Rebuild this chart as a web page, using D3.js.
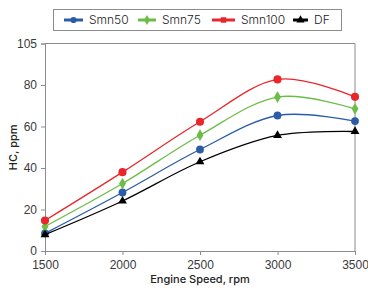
<!DOCTYPE html>
<html>
<head>
<meta charset="utf-8">
<script src="https://cdn.jsdelivr.net/npm/d3@7"></script>
<style>
  body { margin: 0; background: #fff; }
  svg { font-family: "Inter", "Roboto", sans-serif; }
</style>
</head>
<body>
<svg id="chart" width="368" height="291"></svg>
<script>
// engine speed (rpm)
const speeds = [1500, 2000, 2500, 3000, 3500];

// HC emissions, ppm
const smn50 = [8.5, 28.2, 48.9, 65.3, 62.6];
const smn75 = [11.8, 32.5, 55.8, 74.2, 68.5];
const smn100 = [14.7, 38.0, 62.3, 82.7, 74.3];
const df = [7.9, 24.1, 43.0, 55.7, 57.6];

const seriesNames = ["Smn50", "Smn75", "Smn100", "DF"];
const seriesValues = [smn50, smn75, smn100, df];

const yTicks = [0, 20, 40, 60, 80, 100];
const yTickLabels = ["0", "20", "40", "60", "80", "105"];
const xTicks = [1500, 2000, 2500, 3000, 3500];

const colours = ["#2b5ca8", "#6bbd45", "#e8262b", "#000000"];
const markers = [d3.symbolCircle, d3.symbolDiamond, d3.symbolCircle, d3.symbolTriangle];
const markerSizes = [48, 40, 52, 34];

const margin = { top: 43.5, right: 13, bottom: 40, left: 45 };
const svg = d3.select("#chart");
const width = 368 - margin.left - margin.right;
const height = 291 - margin.top - margin.bottom;

const g = svg.append("g")
    .attr("transform", `translate(${margin.left},${margin.top})`);

const x = d3.scaleLinear().domain([1500, 3500]).range([0, width]);
const y = d3.scaleLinear().domain([0, 100]).range([height, 0]);

// frame (top and right)
g.append("path")
    .attr("d", `M0,0H${width}V${height}`)
    .attr("fill", "none")
    .attr("stroke", "#8c8c8c")
    .attr("stroke-width", 1);

const xAxis = g.append("g")
    .attr("transform", `translate(0,${height})`)
    .call(d3.axisBottom(x).tickValues(xTicks).tickSize(4).tickFormat(d3.format("d")));

const yAxis = g.append("g")
    .call(d3.axisLeft(y).tickValues(yTicks).tickSize(4)
        .tickFormat((d, i) => yTickLabels[i]));

[xAxis, yAxis].forEach(ax => {
    ax.select(".domain").attr("stroke", "#8c8c8c");
    ax.selectAll(".tick line").attr("stroke", "#8c8c8c");
    ax.selectAll(".tick text")
        .attr("fill", "#3a3a3a")
        .style("font-size", "12px")
        .style("font-weight", "300");
});
xAxis.selectAll(".tick text").attr("dy", "0.95em");
yAxis.selectAll(".tick text").attr("dx", "-1px");

// axis titles
svg.append("text")
    .attr("x", margin.left + width / 2)
    .attr("y", 283)
    .attr("text-anchor", "middle")
    .attr("fill", "#222")
    .style("font-size", "11px")
    .style("font-weight", "500")
    .text("Engine Speed, rpm");

svg.append("text")
    .attr("transform", `translate(13,${margin.top + height / 2}) rotate(-90)`)
    .attr("text-anchor", "middle")
    .attr("dy", "0.35em")
    .attr("fill", "#222")
    .style("font-size", "11px")
    .style("font-weight", "500")
    .text("HC, ppm");

const line = d3.line()
    .x(d => x(d[0]))
    .y(d => y(d[1]))
    .curve(d3.curveCardinal.tension(0));

seriesValues.forEach((vals, i) => {
    const pts = speeds.map((s, j) => [s, vals[j]]);
    g.append("path")
        .datum(pts)
        .attr("fill", "none")
        .attr("stroke", colours[i])
        .attr("stroke-width", 1.3)
        .attr("d", line);
    g.selectAll(`.m${i}`)
        .data(pts)
        .enter()
        .append("path")
        .attr("class", `m${i}`)
        .attr("transform", d => `translate(${x(d[0])},${y(d[1])})`)
        .attr("d", d3.symbol().type(markers[i]).size(markerSizes[i]))
        .attr("fill", colours[i]);
});

// legend
const legend = svg.append("g");
legend.append("rect")
    .attr("x", 53.5).attr("y", 9.5)
    .attr("width", 288).attr("height", 21)
    .attr("fill", "#fff")
    .attr("stroke", "#8c8c8c");

const legendX = [64, 138, 212, 293];
const legendLen = [19, 18, 23, 15];
const legendMarkers = [d3.symbolCircle, d3.symbolDiamond, d3.symbolSquare, d3.symbolTriangle];
seriesNames.forEach((name, i) => {
    const item = legend.append("g").attr("transform", `translate(${legendX[i]},20)`);
    item.append("line")
        .attr("x1", 0).attr("x2", legendLen[i])
        .attr("stroke", colours[i])
        .attr("stroke-width", 3);
    item.append("path")
        .attr("transform", `translate(${legendLen[i] / 2},0)`)
        .attr("d", d3.symbol().type(legendMarkers[i]).size(30))
        .attr("fill", colours[i]);
    item.append("text")
        .attr("x", legendLen[i] + 6)
        .attr("dy", "0.36em")
        .attr("fill", "#222")
        .style("font-size", "12px")
        .style("font-weight", "300")
        .text(name);
});
</script>
</body>
</html>
